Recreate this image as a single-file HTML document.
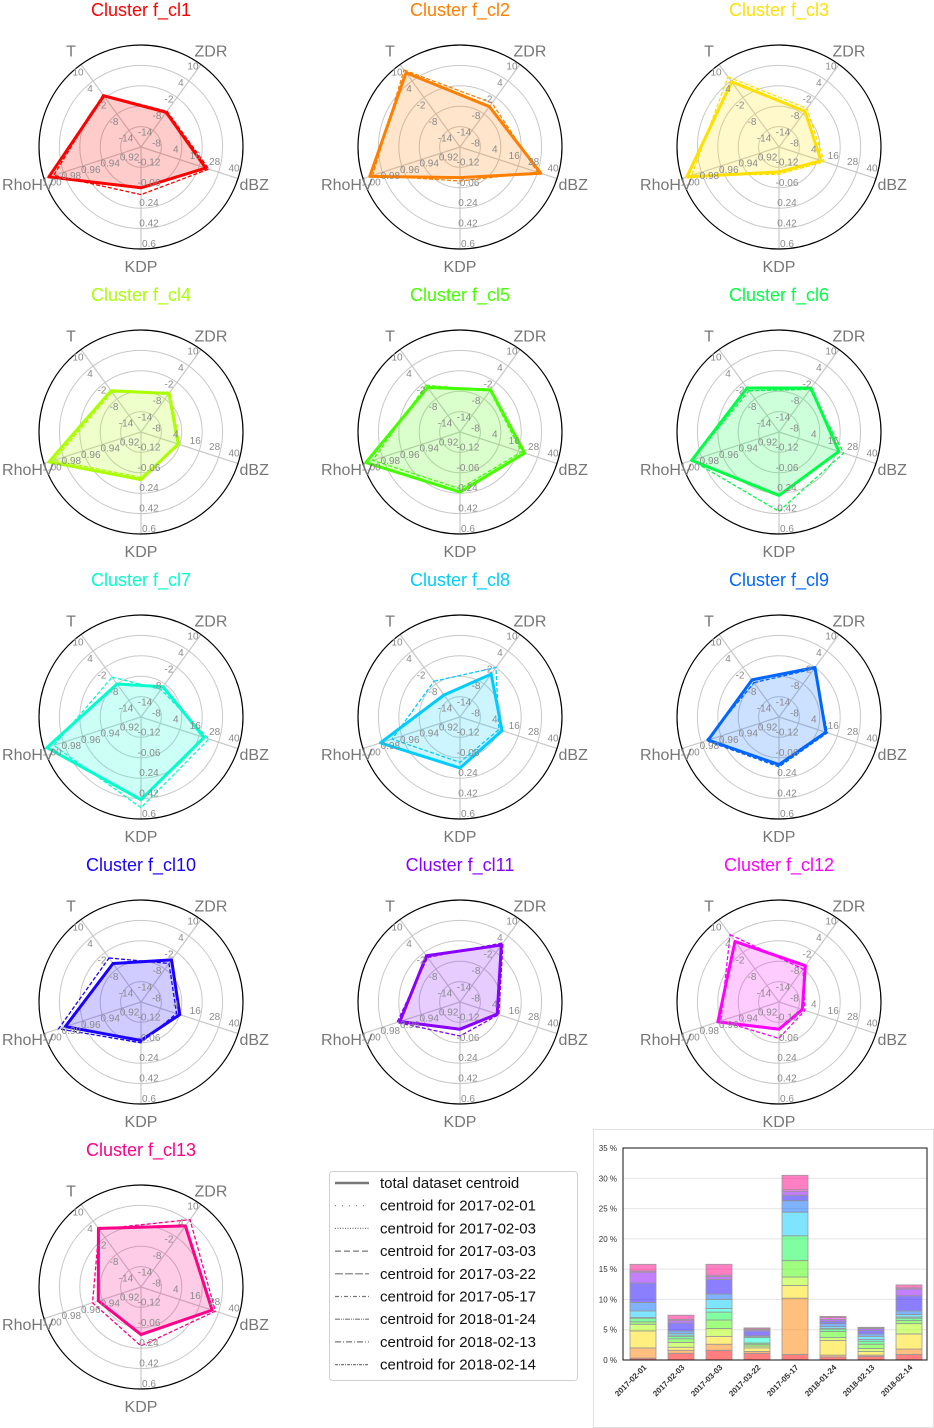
<!DOCTYPE html>
<html><head><meta charset="utf-8">
<style>
html,body{margin:0;padding:0;background:#fff;}
svg{display:block;font-family:"Liberation Sans","DejaVu Sans",sans-serif;}
</style></head>
<body>
<svg id="fig" width="934" height="1428" viewBox="0 0 934 1428" xmlns="http://www.w3.org/2000/svg">
<g id="radars"></g>
<g id="legend"></g>
<g id="bars"></g>
</svg>
<script>
// ---- radar data ----
const axisNames = ["T","ZDR","dBZ","KDP","RhoHV"];
const tickT = ["-14","-8","-2","4","10"];
const tickZDR = ["-14","-8","-2","4","10"];
const tickDBZ = ["-8","4","16","28","40"];
const tickKDP = ["-0.12","-0.06","0.24","0.42","0.6"];
const tickRho = ["0.92","0.94","0.96","0.98","1.00"];
const clusterNames = ["f_cl1","f_cl2","f_cl3","f_cl4","f_cl5","f_cl6","f_cl7","f_cl8","f_cl9","f_cl10","f_cl11","f_cl12","f_cl13"];
const clusterColors = ["#ff0000","#ff7f00","#ffe000","#aaff00","#44ff00","#00ff44","#00ffcc","#00ccff","#0066ff","#1a00ff","#8800ff","#ff00ff","#ff0088"];
// centroid values per cluster: [T, ZDR, dBZ, KDP, RhoHV]
const centroidT   = [-1.4, 7.0, 3.7, -5.0, -3.8, -4.0, -8.0, -12.0, -6.5, -6.0, -3.2, 2.0, 1.3];
const centroidZDR = [-7.4, -5.3, -7.0, -6.0, -4.7, -4.0, -9.0, -4.4, -2.0, -4.7, 0.7, -6.8, 2.2];
const centroidDBZ = [20, 30, 6, 3, 20, 17, 19, 6, 9, 4, 3, -5.6, 24];
const centroidKDP = [0.06, -0.03, -0.08, 0.12, 0.23, 0.26, 0.43, 0.15, 0.12, 0.04, -0.06, -0.06, 0.12];
const centroidRho = [0.995, 0.993, 0.995, 0.995, 0.997, 0.99, 0.997, 0.982, 0.973, 0.978, 0.962, 0.963, 0.944];
// one divergent per-date centroid per cluster (estimated)
const altT   = [-1.0, 8.0, 5.5, -5.5, -3.0, -5.0, -5.5, -7.0, -7.5, -4.0, -3.8, 4.5, 1.0];
const altZDR = [-7.0, -4.0, -6.0, -5.5, -5.0, -4.5, -10.0, -2.0, -2.5, -6.0, 1.5, -8.0, 4.5];
const altDBZ = [22, 28, 8, 4, 18, 20, 22, 4, 10, 2, 4, -4, 26];
const altKDP = [0.12, 0.0, -0.06, 0.10, 0.20, 0.40, 0.50, 0.10, 0.14, 0.06, 0.0, 0.02, 0.22];
const altRho = [0.99, 0.99, 0.99, 0.99, 0.99, 0.99, 0.99, 0.97, 0.975, 0.985, 0.965, 0.96, 0.95];

const NS="http://www.w3.org/2000/svg";
function mk(tag, attrs, parent){const e=document.createElementNS(NS,tag);for(const k in attrs)e.setAttribute(k,attrs[k]);parent.appendChild(e);return e;}
const R=102;
const angles=[126,54,-18,-90,198].map(a=>a*Math.PI/180);
const lo=[-20,-20,-20,-0.3,0.90], hi=[10,10,40,0.6,1.0];
const ticks=[tickT,tickZDR,tickDBZ,tickKDP,tickRho];
const tickOff=[[-3,8],[-8,2],[-4,-10],[8,-5],[8,4]];
function rad(i,v){return R*Math.max(0,Math.min(1.05,(v-lo[i])/(hi[i]-lo[i])));}
function pt(cx,cy,a,r){return [cx+r*Math.cos(a), cy-r*Math.sin(a)];}
const colX=[141,460,779], rowY=[147,432,717,1002,1287];
const radG=document.getElementById('radars');
clusterNames.forEach((name,c)=>{
  const cx=colX[c%3], cy=rowY[Math.floor(c/3)], col=clusterColors[c];
  const g=mk('g',{},radG);
  
  
  const t=mk('text',{x:cx,y:cy-131,'text-anchor':'middle','font-size':18,fill:col},g);
  t.textContent='Cluster '+name;
  
  
  for(let k=1;k<=4;k++){mk('circle',{cx:cx,cy:cy,r:R*k/5,fill:'none',stroke:'#c8c8c8','stroke-width':1},g);}
  angles.forEach((a,i)=>{const p=pt(cx,cy,a,R);mk('line',{x1:cx,y1:cy,x2:p[0],y2:p[1],stroke:'#c8c8c8','stroke-width':1.2},g);});
  const vals=[centroidT[c],centroidZDR[c],centroidDBZ[c],centroidKDP[c],centroidRho[c]];
  const alts=[altT[c],altZDR[c],altDBZ[c],altKDP[c],altRho[c]];
  const poly=vals.map((v,i)=>pt(cx,cy,angles[i],rad(i,v)).join(',')).join(' ');
  const apoly=alts.map((v,i)=>pt(cx,cy,angles[i],rad(i,v)).join(',')).join(' ');
  const f=mk('polygon',{points:poly,fill:col,'fill-opacity':0.2,stroke:'none'},g);
  
  
  const al=mk('polygon',{points:apoly,fill:'none',stroke:col,'stroke-width':1.3,'stroke-dasharray':'4,2'},g);
  
  
  const l=mk('polygon',{points:poly,fill:'none',stroke:col,'stroke-width':3,'stroke-linejoin':'round'},g);
  
  
  mk('circle',{cx:cx,cy:cy,r:R,fill:'none',stroke:'#000','stroke-width':1.2},g);
  angles.forEach((a,i)=>{
    ticks[i].forEach((tx,k)=>{const p=pt(cx,cy,a,R*(k+1)/5);
      const e=mk('text',{x:p[0]+tickOff[i][0],y:p[1]+tickOff[i][1]+3,'text-anchor':'middle','font-size':10,fill:'#8a8a8a'},g);e.textContent=tx;});
    const lp=pt(cx,cy,a,119);
    const e=mk('text',{x:lp[0],y:lp[1]+6,'text-anchor':'middle','font-size':16,fill:'#777'},g);
    e.textContent=axisNames[i];
    
    
  });
});
// ---- legend ----
const legendLabels=["total dataset centroid","centroid for 2017-02-01","centroid for 2017-02-03","centroid for 2017-03-03","centroid for 2017-03-22","centroid for 2017-05-17","centroid for 2018-01-24","centroid for 2018-02-13","centroid for 2018-02-14"];
const legendDash=["","1,6","1,1.5","6,3","8,2","4,2,1,2","5,1,1,1,1,1","6,2,1,2","3,1,1,1"];
const lg=document.getElementById('legend');
mk('rect',{x:329.5,y:1171.5,width:248,height:209,rx:3,fill:'#fff',stroke:'#d0d0d0'},lg);
legendLabels.forEach((s,i)=>{
  const y=1183+i*22.7;
  const ln=mk('line',{x1:335,y1:y,x2:369,y2:y,stroke:'#777','stroke-width':i==0?2.5:1.2,'stroke-dasharray':legendDash[i]},lg);
  const t=mk('text',{x:380,y:y+5,'font-size':15,fill:'#111'},lg);t.textContent=s;
  
  
});
// ---- stacked bar data (percent per cluster, bottom cl1 -> top cl13) ----
const barDates=["2017-02-01","2017-02-03","2017-03-03","2017-03-22","2017-05-17","2018-01-24","2018-02-13","2018-02-14"];
const share_2017_02_01=[0.3,1.7,2.8,1.1,0.4,0.6,0.1,1.1,1.4,3.2,1.8,0.2,1.1];
const share_2017_02_03=[1.1,0.5,0.5,0.8,0.6,0.4,0.2,0.3,0.4,1.3,0.4,0.2,0.7];
const share_2017_03_03=[1.6,1.0,1.3,1.3,1.4,1.3,0.6,1.5,0.9,2.4,0.5,0.2,1.8];
const share_2017_03_22=[1.1,0.3,0.6,0.3,0.3,0.2,0.9,0.2,0.1,0.8,0.2,0.1,0.2];
const share_2017_05_17=[0.9,9.3,2.1,1.4,2.7,4.1,0.0,3.9,1.9,0.9,0.6,0.3,2.4];
const share_2018_01_24=[0.5,0.3,2.4,0.5,1.0,0.4,0.1,0.3,0.5,0.4,0.3,0.3,0.2];
const share_2018_02_13=[0.6,0.2,0.6,0.5,0.7,0.5,0.3,0.5,0.4,0.6,0.3,0.1,0.1];
const share_2018_02_14=[0.9,0.9,2.5,1.7,0.5,0.4,0.2,0.4,0.6,2.5,1.1,0.2,0.5];
const shares=[share_2017_02_01,share_2017_02_03,share_2017_03_03,share_2017_03_22,share_2017_05_17,share_2018_01_24,share_2018_02_13,share_2018_02_14];
const yTicks=[0,5,10,15,20,25,30,35];
const bg=document.getElementById('bars');
mk('rect',{x:593.5,y:1129.5,width:340,height:298,fill:'#fff',stroke:'#e0e0e0'},bg);
const px0=623,px1=927,py0=1360,py1=1148;
const ys=v=>py0-(v/35)*(py0-py1);
const xs=i=>643+i*38;
yTicks.forEach(v=>{
  mk('line',{x1:px0,x2:px1,y1:ys(v),y2:ys(v),stroke:'#e4e4e4','stroke-width':1},bg);
  const t=mk('text',{x:617,y:ys(v)+3,'text-anchor':'end','font-size':8,fill:'#333'},bg);t.textContent=v+' %';
});
barDates.forEach((d,i)=>{
  let acc=0;
  shares[i].forEach((v,c)=>{
    const r=mk('rect',{x:xs(i)-13,y:ys(acc+v),width:26,height:ys(acc)-ys(acc+v),fill:clusterColors[c],'fill-opacity':0.5,stroke:'#999','stroke-width':0.8},bg);
    
    
    acc+=v;
  });
  const t=mk('text',{x:xs(i)+4,y:1368,'text-anchor':'end','font-size':8,'font-weight':'bold',fill:'#333',transform:'rotate(-45 '+(xs(i)+4)+' 1368)'},bg);
  t.textContent=d;
  
  
});
mk('rect',{x:px0,y:py1,width:px1-px0,height:py0-py1,fill:'none',stroke:'#111','stroke-width':1},bg);
</script>
</body></html>
